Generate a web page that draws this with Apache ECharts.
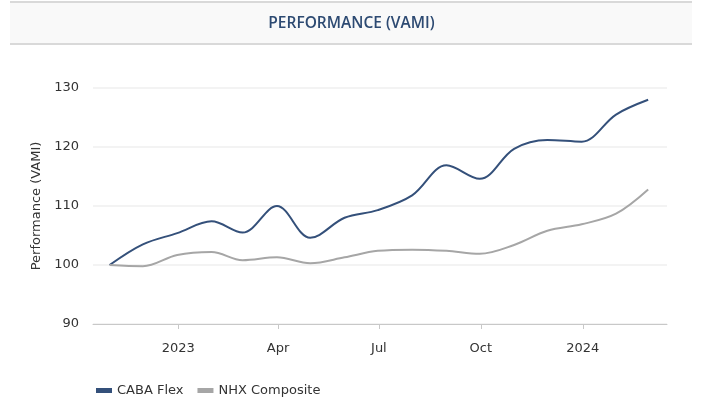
<!DOCTYPE html>
<html>
<head>
<meta charset="utf-8">
<title>Performance (VAMI)</title>
<script src="https://cdn.jsdelivr.net/npm/echarts@6/dist/echarts.min.js"></script>
<style>
  * { margin: 0; padding: 0; }
  html, body { background: #fff; }
  #main { width: 703px; height: 405px; }
</style>
</head>
<body>
<div id="main"></div>
<script>
// month-end dates
var dates = ['2022-10-31', '2022-11-30', '2022-12-31', '2023-01-31', '2023-02-28', '2023-03-31',
  '2023-04-30', '2023-05-31', '2023-06-30', '2023-07-31', '2023-08-31', '2023-09-30',
  '2023-10-31', '2023-11-30', '2023-12-31', '2024-01-31', '2024-02-29'];
var cabaFlex = [100, 103.5, 105.4, 107.4, 105.5, 110.0, 104.6, 108.0, 109.3, 111.8, 116.9, 114.6,
  119.7, 121.2, 120.9, 125.5, 128.0];
var nhxComposite = [100, 99.8, 101.7, 102.2, 100.8, 101.3, 100.3, 101.3, 102.4, 102.6, 102.4, 101.9,
  103.4, 105.8, 106.9, 108.7, 112.8];
var tickDates = ['2023-01-01', '2023-04-01', '2023-07-01', '2023-10-01', '2024-01-01'];
var tickLabels = ['2023', 'Apr', 'Jul', 'Oct', '2024'];

var FONT = 'DejaVu Sans';

function toTime(d) { return Date.UTC(+d.slice(0, 4), +d.slice(5, 7) - 1, +d.slice(8, 10)); }
function pairs(vals) {
  return dates.map(function (d, i) { return [toTime(d), vals[i]]; });
}
var tickTimes = tickDates.map(toTime);

var chart = echarts.init(document.getElementById('main'));
chart.setOption({
  animation: false,
  graphic: [
    { type: 'rect', shape: { x: 10, y: 1, width: 682, height: 43 }, style: { fill: '#f9f9f9' }, z: -1 },
    { type: 'line', shape: { x1: 10, y1: 2, x2: 692, y2: 2 }, style: { stroke: '#d9d9d9', lineWidth: 2 } },
    { type: 'line', shape: { x1: 10, y1: 44, x2: 692, y2: 44 }, style: { stroke: '#d9d9d9', lineWidth: 2 } }
  ],
  title: {
    text: 'PERFORMANCE (VAMI)',
    left: 'center',
    top: 11,
    textStyle: { fontFamily: 'Open Sans', fontWeight: 600, fontSize: 15.5, color: '#2d4a72' }
  },
  legend: {
    left: 91,
    bottom: 3,
    icon: 'rect',
    itemWidth: 16,
    itemHeight: 5,
    itemGap: 14,
    itemStyle: { borderWidth: 0 },
    textStyle: { fontFamily: FONT, fontSize: 13, color: '#333' },
    data: ['CABA Flex', 'NHX Composite']
  },
  grid: { left: 93, right: 36, top: 88, bottom: 81 },
  xAxis: {
    type: 'value',
    min: toTime('2022-10-16'),
    max: toTime('2024-03-17'),
    axisLine: { show: true, lineStyle: { color: '#c8c8c8' } },
    axisTick: { show: true, length: 5, lineStyle: { color: '#c8c8c8' }, customValues: tickTimes },
    axisLabel: {
      customValues: tickTimes,
      margin: 18,
      fontFamily: FONT,
      fontSize: 13,
      color: '#333',
      formatter: function (v) {
        var i = tickTimes.indexOf(v);
        return i >= 0 ? tickLabels[i] : '';
      }
    },
    splitLine: { show: false }
  },
  yAxis: {
    type: 'value',
    min: 90,
    max: 130,
    interval: 10,
    name: 'Performance (VAMI)',
    nameLocation: 'middle',
    nameGap: 47,
    nameTextStyle: { fontFamily: FONT, fontSize: 13, color: '#333' },
    axisLine: { show: false },
    axisTick: { show: false },
    axisLabel: { fontFamily: FONT, fontSize: 13, color: '#333', margin: 14 },
    splitLine: { lineStyle: { color: '#efefef', width: 1.5 } }
  },
  series: [
    {
      name: 'CABA Flex',
      type: 'line',
      smooth: 0.35,
      showSymbol: false,
      data: pairs(cabaFlex),
      itemStyle: { color: '#34507a' },
      lineStyle: { color: '#34507a', width: 2 }
    },
    {
      name: 'NHX Composite',
      type: 'line',
      smooth: 0.35,
      showSymbol: false,
      data: pairs(nhxComposite),
      itemStyle: { color: '#a6a6a6' },
      lineStyle: { color: '#a6a6a6', width: 2 }
    }
  ]
});
</script>
</body>
</html>
